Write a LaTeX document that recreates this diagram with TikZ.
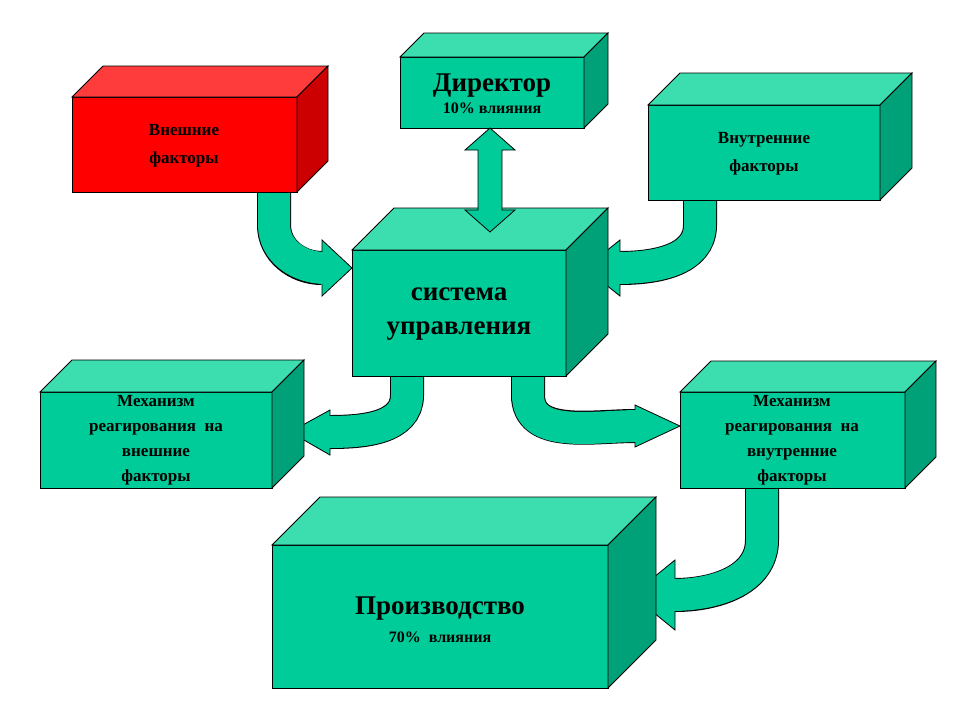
\documentclass[tikz,border=0pt]{standalone}
\usepackage{fontspec}
\setmainfont{Liberation Serif}
\definecolor{gfr}{RGB}{0,204,153}
\definecolor{gtp}{RGB}{60,222,175}
\definecolor{gsd}{RGB}{0,160,120}
\definecolor{rfr}{RGB}{255,0,0}
\definecolor{rtp}{RGB}{255,60,60}
\definecolor{rsd}{RGB}{204,0,0}
\newcommand\mycube[6]{% x y w h d prefix
  \filldraw[fill=#6fr] (#1,#2) rectangle ++(#3,#4);
  \filldraw[fill=#6tp] (#1,#2) -- ++(#5,-#5) -- ++(#3,0) -- ++(-#5,#5) -- cycle;
  \filldraw[fill=#6sd] (#1+#3,#2) -- ++(#5,-#5) -- ++(0,#4) -- ++(-#5,#5) -- cycle;}
\tikzset{lbl/.style={font=\bfseries\fontsize{17}{28}\selectfont,align=center},
 big/.style={font=\bfseries\fontsize{27}{34}\selectfont,align=center},
 shb/.style={line width=34pt,draw=black},
 shg/.style={line width=32pt,draw=gfr},
 hd/.style={fill=gfr,draw=black,line join=miter}}
\begin{document}
\begin{tikzpicture}[x=1pt,y=-1pt,line width=0.8pt]
\useasboundingbox (0,0) rectangle (960,720);
% arrows
\draw[shb] (274,190) -- (274,225) to[out=-90,in=180] (322,268);
\draw[hd] (322,240) -- (352,268) -- (322,296) -- cycle;
\draw[shg] (274,190) -- (274,225) to[out=-90,in=180] (325,268);
\draw[shb] (700,198) -- (700,225) to[out=-90,in=0] (620,268);
\draw[hd] (620,240) -- (585,268) -- (620,296) -- cycle;
\draw[shg] (700,198) -- (700,225) to[out=-90,in=0] (617,268);
\draw[shb] (407,374) -- (407,395) to[out=-90,in=0] (330,432);
\draw[hd] (330,410) -- (290,432) -- (330,455) -- cycle;
\draw[shg] (407,374) -- (407,395) to[out=-90,in=0] (327,432);
\draw[shb] (528,374) -- (528,395) to[out=-90,in=180] (635,426);
\draw[hd] (635,405) -- (680,426) -- (635,447) -- cycle;
\draw[shg] (528,374) -- (528,395) to[out=-90,in=180] (638,426);
\draw[shb] (762,486) -- (762,540) to[out=-90,in=0] (675,595);
\draw[hd] (675,560) -- (632,595) -- (675,630) -- cycle;
\draw[shg] (762,486) -- (762,540) to[out=-90,in=0] (672,595);
% boxes
\mycube{72}{97}{225}{95}{31}{r}
\mycube{400}{57}{184}{71}{24}{g}
\mycube{648}{105}{232}{95}{32}{g}
\mycube{352}{250}{214}{126}{42}{g}
\mycube{40}{392}{232}{96}{32}{g}
\mycube{680}{392}{225}{96}{31}{g}
\mycube{272}{545}{336}{143}{48}{g}
\draw[hd] (478,150) -- (465,150) -- (490,128) -- (515,150) -- (502,150) -- (502,210) -- (515,210) -- (490,232) -- (465,210) -- (478,210) -- cycle;
\node[lbl] (ext) at (184,146) {Внешние\\факторы};
\node[align=center,font=\bfseries\fontsize{16}{22}\selectfont] (dir) at (492,94) {{\fontsize{27}{30}\selectfont Директор}\\10\% влияния};
\node[lbl] (int) at (764,154) {Внутренние\\факторы};
\node[big] (sys) at (459,314) {система\\управления};
\node[lbl,font=\bfseries\fontsize{17}{25}\selectfont] (ml) at (156,440) {Механизм\\реагирования\ \ на\\внешние\\факторы};
\node[lbl,font=\bfseries\fontsize{17}{25}\selectfont] (mr) at (792,440) {Механизм\\реагирования\ \ на\\внутренние\\факторы};
\node[align=center,font=\bfseries\fontsize{16}{28}\selectfont] (prod) at (440,620) {{\fontsize{27}{30}\selectfont Производство}\\70\% \ влияния};
\end{tikzpicture}
\end{document}
